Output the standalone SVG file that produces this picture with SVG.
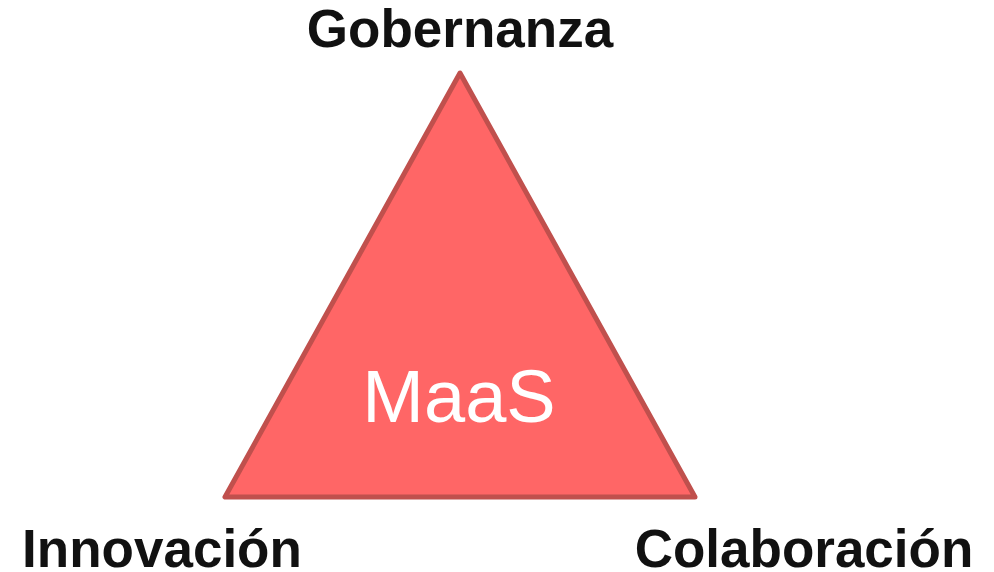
<svg xmlns="http://www.w3.org/2000/svg" width="994" height="572" viewBox="0 0 994 572">
<style>
.lbl{font-family:"Liberation Sans",Arial,sans-serif;font-weight:bold;font-size:53px;fill:#111111;text-anchor:middle}
.core{font-family:"Liberation Sans",Arial,sans-serif;font-size:74px;fill:#ffffff;text-anchor:middle}
</style>
<rect width="994" height="572" fill="#ffffff"/>
<g id="triangle">
<polygon points="460,73 225,497 695,497" fill="#ff6666" stroke="#c0504d" stroke-width="5" stroke-linejoin="round"/>
<text class="core" x="459" y="422">MaaS</text>
</g>
<g id="gobernanza"><text class="lbl" x="460" y="47">Gobernanza</text></g>
<g id="innovacion"><text class="lbl" x="162" y="567">Innovación</text></g>
<g id="colaboracion"><text class="lbl" x="804" y="567">Colaboración</text></g>
</svg>
